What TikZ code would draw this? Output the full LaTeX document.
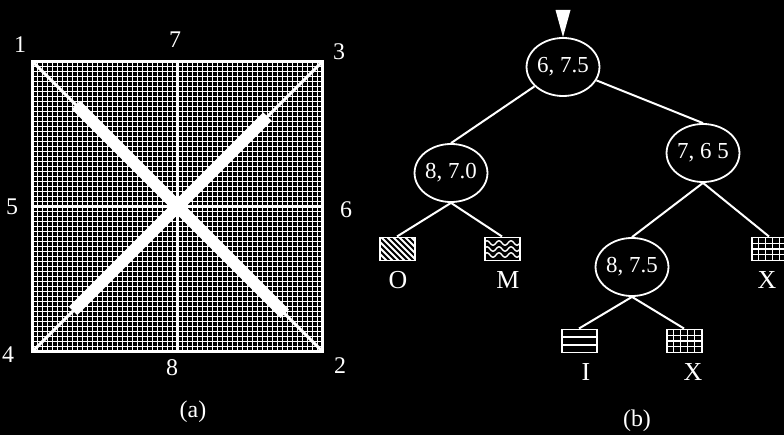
\documentclass[tikz,border=0pt]{standalone}
\usepackage{fontspec}
\setmainfont{Liberation Serif}
\usetikzlibrary{shapes, positioning, calc}

\begin{document}
\begin{tikzpicture}[x=1bp, y=-1bp,
        splitnode/.style={ellipse, draw=white, line width=1.8pt, minimum width=72bp, minimum height=58bp, inner sep=0pt, text=white, font=\fontsize{23}{23}\selectfont},
        leafbox/.style={rectangle, draw=white, line width=2pt, minimum width=35bp, minimum height=23bp, inner sep=0pt},
        hatchleaf/.style={leafbox, path picture={
            \begin{scope}[shift={(path picture bounding box.center)}]
            \foreach \k in {-42,-36,...,24} \draw[white, line width=1.8pt] (\k,-14) -- ++(28,28);
            \end{scope}}},
        waveleaf/.style={leafbox, path picture={
            \begin{scope}[shift={(path picture bounding box.center)}]
            \foreach \r in {-6,0,6} \draw[white, line width=1.4pt] plot[domain=-18:18, samples=37, smooth] (\x, {\r+2.2*sin(30*\x)});
            \end{scope}}},
        gridleaf/.style={leafbox, path picture={
            \begin{scope}[shift={(path picture bounding box.center)}, white, line width=1.3pt]
            \foreach \k in {-10.5,-3.5,3.5,10.5} \draw (\k,-12) -- (\k,12);
            \foreach \r in {-5.75,0,5.75} \draw (-18,\r) -- (18,\r);
            \end{scope}}},
        barleaf/.style={leafbox, path picture={
            \begin{scope}[shift={(path picture bounding box.center)}, white, line width=1.5pt]
            \foreach \r in {-3.8,3.8} \draw (-18,\r) -- (18,\r);
            \end{scope}}},
        lbl/.style={text=white, inner sep=0pt, font=\fontsize{24}{24}\selectfont},
        leaflbl/.style={text=white, inner sep=0pt, font=\fontsize{26}{26}\selectfont},
        branch/.style={draw=white, line width=2pt},
        gridline/.style={white, line width=1.2bp},
        diag/.style={white, line width=3pt},
        band/.style={white, line width=12pt}
    ]
        % Background
        \fill[black] (0,0) rectangle (784,435);
        \useasboundingbox (0,0) rectangle (784,435);

        % (a) the square
        \coordinate (corner1) at (32.5,61.5);
        \coordinate (corner3) at (322.5,61.5);
        \coordinate (corner2) at (322.5,351.5);
        \coordinate (corner4) at (32.5,351.5);
        \foreach \i in {0,...,58} {
            \draw[gridline] ($(corner1)!\i/58!(corner3)$) -- ($(corner4)!\i/58!(corner2)$);
            \draw[gridline] ($(corner1)!\i/58!(corner4)$) -- ($(corner3)!\i/58!(corner2)$);
        }
        \draw[white, line width=2.6pt] ($(corner1)!0.5!(corner3)$) -- ($(corner4)!0.5!(corner2)$);
        \draw[white, line width=2.6pt] ($(corner1)!0.5!(corner4)$) -- ($(corner3)!0.5!(corner2)$);
        \draw[white, line width=3pt] (corner1) rectangle (corner2);

        % Diagonals
        \draw[diag] (corner1) -- (corner2);
        \draw[diag] (corner3) -- (corner4);
        \draw[band] ($(corner1)!0.15!(corner2)$) -- ($(corner1)!0.87!(corner2)$);
        \draw[band] ($(corner3)!0.19!(corner4)$) -- ($(corner3)!0.86!(corner4)$);

        % Corner and side labels
        \node[lbl] (l1) at (20,45) {1};
        \node[lbl] (l7) at (175,40) {7};
        \node[lbl] (l3) at (339,52) {3};
        \node[lbl] (l5) at (12,207) {5};
        \node[lbl] (l6) at (346,210) {6};
        \node[lbl] (l4) at (8,355) {4};
        \node[lbl] (l8) at (172,368) {8};
        \node[lbl] (l2) at (340,366) {2};
        \node[lbl] (capa) at (193,412) {(a)};

        % (b) the tree
        \node[splitnode] (root) at (563,67) {6, 7.5};
        \node[splitnode] (left) at (451,173) {8, 7.0};
        \node[splitnode] (right) at (703,153) {7, 6 5};
        \node[splitnode] (rleft) at (632,267) {8, 7.5};

        \node[hatchleaf] (leafO) at (397,249) {};
        \node[waveleaf] (leafM) at (502,249) {};
        \node[gridleaf] (leafXa) at (769,249) {};
        \node[barleaf] (leafI) at (579,341) {};
        \node[gridleaf] (leafXb) at (684,341) {};

        \node[leaflbl] at (398,280) {O};
        \node[leaflbl] at (508,280) {M};
        \node[leaflbl] at (767,280) {X};
        \node[leaflbl] at (586,372) {I};
        \node[leaflbl] at (693,372) {X};

        % Entry marker
        \fill[white] (555.5,10) -- (570.5,10) -- (root.north) -- cycle;

        % Branches
        \draw[branch] (root) -- (left.north);
        \draw[branch] (root) -- (right.north);
        \draw[branch] (left.south) -- (leafO.north);
        \draw[branch] (left.south) -- (leafM.north);
        \draw[branch] (right.south) -- (rleft.north);
        \draw[branch] (right.south) -- (leafXa.north);
        \draw[branch] (rleft.south) -- (leafI.north);
        \draw[branch] (rleft.south) -- (leafXb.north);

        \node[lbl] (capb) at (637,421) {(b)};
    \end{tikzpicture}
\end{document}
